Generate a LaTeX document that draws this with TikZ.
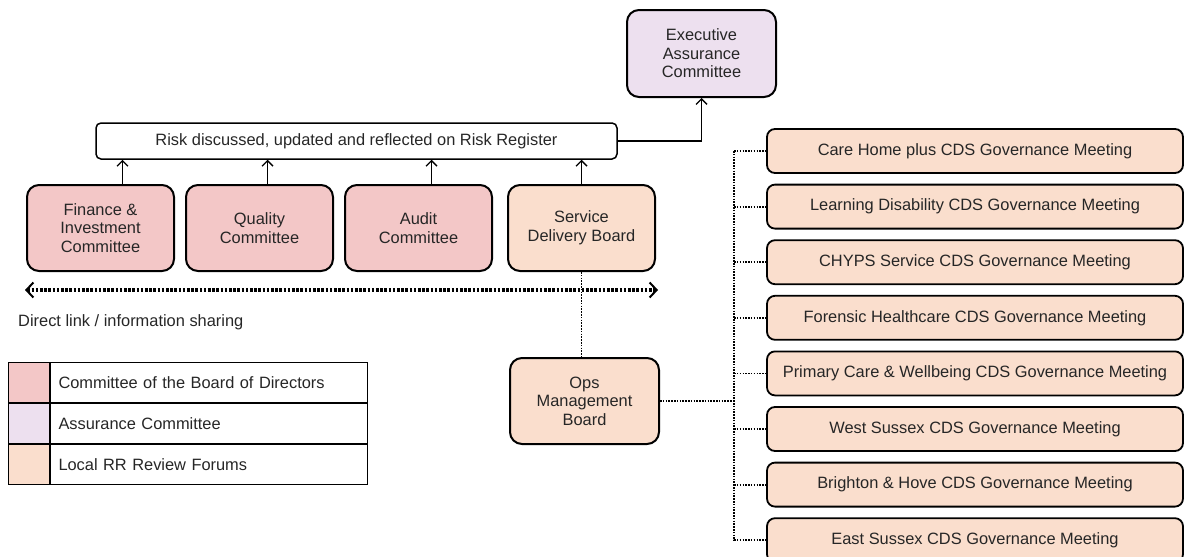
\documentclass[tikz,border=0pt]{standalone}
\usepackage{fontspec}
\setmainfont{Liberation Sans}
\usetikzlibrary{positioning,arrows.meta}
\definecolor{BoardPink}{RGB}{243,199,199}
\definecolor{AssuranceLilac}{RGB}{237,224,239}
\definecolor{ForumPeach}{RGB}{250,222,205}

\begin{document}
\begin{tikzpicture}[x=1pt, y=-1pt,
            every node/.style={font=\fontsize{16.4}{18.6}\selectfont, text=black!85},
            box/.style={draw, line width=2pt, rectangle, rounded corners=12pt, align=center, inner sep=0pt, minimum width=147pt, minimum height=86pt},
            meeting/.style={draw, line width=1.8pt, rectangle, rounded corners=8pt, fill=ForumPeach, inner sep=0pt, minimum width=416pt, minimum height=44pt},
            key/.style={draw, line width=1pt, inner sep=0pt, minimum width=41pt, minimum height=40pt},
            keytext/.style={draw, line width=1pt, inner xsep=8pt, inner ysep=0pt, text width=301pt, minimum height=40pt, align=left},
            arrow/.style={-{Straight Barb[length=5.5pt, width=11pt]}, line width=1.4pt},
            link/.style={line width=1.8pt, dash pattern=on 1.5pt off 1.3pt},
            sharing/.style={{Straight Barb[length=7pt, width=15pt, line width=2pt]}-{Straight Barb[length=7pt, width=15pt, line width=2pt]}, line width=3.2pt, dash pattern=on 2.6pt off 1.6pt}
        ]
            \useasboundingbox (0,0) rectangle (1184,557);

            % top of the chain
            \node (exec) [box, fill=AssuranceLilac, minimum width=149pt, minimum height=87pt] at (701.5,53.5) {Executive\\Assurance\\Committee};
            \node (risk) [draw, line width=1.5pt, rounded corners=5pt, minimum width=521pt, minimum height=36pt, inner sep=0pt] at (356.5,141) {Risk discussed, updated and reflected on Risk Register};

            % committees and boards
            \node (fin) [box, fill=BoardPink] at (100.5,228) {Finance \&\\Investment\\Committee};
            \node (qual) [box, fill=BoardPink, right=10pt of fin] {Quality\\Committee};
            \node (audit) [box, fill=BoardPink, right=10pt of qual] {Audit\\Committee};
            \node (serv) [box, fill=ForumPeach, right=14pt of audit] {Service\\Delivery Board};
            \node (ops) [box, fill=ForumPeach, minimum width=149pt] at (584.5,401) {Ops\\Management\\Board};

            \draw [arrow] ([xshift=22pt]fin.north) -- ([xshift=22pt]fin.north |- risk.south);
            \draw [arrow] ([xshift=8pt]qual.north) -- ([xshift=8pt]qual.north |- risk.south);
            \draw [arrow] ([xshift=13pt]audit.north) -- ([xshift=13pt]audit.north |- risk.south);
            \draw [arrow] (serv.north) -- (serv.north |- risk.south);
            \draw [arrow] (risk.east) -| (exec.south);

            % information sharing
            \coordinate (shareL) at (25,290);
            \coordinate (shareR) at (658,290);
            \draw [sharing] (shareL) -- (shareR);
            \node (sharetxt) [anchor=west, inner sep=0pt] at (18,322) {Direct link / information sharing};
            \draw [link] (serv.south) -- (serv.south |- ops.north);

            % local governance meetings
            \node (care) [meeting] at (975,151) {Care Home plus CDS Governance Meeting};
            \node (ld) [meeting, below=9.8pt of care] {Learning Disability CDS Governance Meeting};
            \node (chyps) [meeting, below=9.8pt of ld] {CHYPS Service CDS Governance Meeting};
            \node (foren) [meeting, below=9.8pt of chyps] {Forensic Healthcare CDS Governance Meeting};
            \node (prim) [meeting, below=9.8pt of foren] {Primary Care \& Wellbeing CDS Governance Meeting};
            \node (wsx) [meeting, below=9.8pt of prim] {West Sussex CDS Governance Meeting};
            \node (bh) [meeting, below=9.8pt of wsx] {Brighton \& Hove CDS Governance Meeting};
            \node (esx) [meeting, below=9.8pt of bh] {East Sussex CDS Governance Meeting};

            \coordinate (busT) at ([xshift=-32pt]care.west);
            \coordinate (busB) at ([xshift=-32pt]esx.west);
            \draw [link] (busT) -- (care.west);
            \draw [link] (busT) -- (busB) -- (esx.west);
            \draw [link] (busT |- ld.west) -- (ld.west);
            \draw [link] (busT |- chyps.west) -- (chyps.west);
            \draw [link] (busT |- foren.west) -- (foren.west);
            \draw [link] (busT |- prim.west) -- (prim.west);
            \draw [link] (busT |- wsx.west) -- (wsx.west);
            \draw [link] (busT |- bh.west) -- (bh.west);
            \draw [link] (ops.east) -- (ops.east -| busT);

            % key
            \node (keyboard) [key, fill=BoardPink, anchor=north west] at (8,362) {};
            \node (keyboardtxt) [keytext, right=0pt of keyboard] {Committee of the Board of Directors};
            \node (keyassure) [key, fill=AssuranceLilac, below=0pt of keyboard] {};
            \node (keyassuretxt) [keytext, right=0pt of keyassure] {Assurance Committee};
            \node (keyforum) [key, fill=ForumPeach, below=0pt of keyassure] {};
            \node (keyforumtxt) [keytext, right=0pt of keyforum] {Local RR Review Forums};
        \end{tikzpicture}
\end{document}
